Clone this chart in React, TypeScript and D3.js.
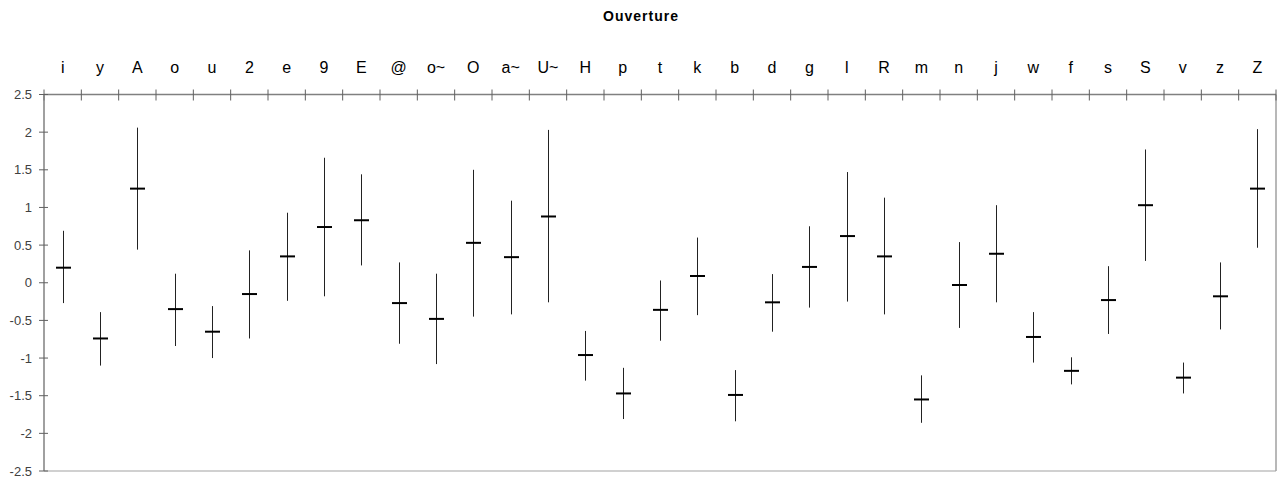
import React from "react";
import * as d3 from "d3";

const categories = ["i","y","A","o","u","2","e","9","E","@","o~","O","a~","U~","H","p","t","k","b","d","g","l","R","m","n","j","w","f","s","S","v","z","Z"];
const means = [0.20,-0.74,1.25,-0.35,-0.65,-0.15,0.35,0.74,0.83,-0.27,-0.48,0.53,0.34,0.88,-0.96,-1.47,-0.36,0.09,-1.49,-0.26,0.21,0.62,0.35,-1.55,-0.03,0.385,-0.72,-1.17,-0.23,1.03,-1.26,-0.18,1.25];
const highs = [0.69,-0.39,2.06,0.12,-0.31,0.43,0.93,1.66,1.44,0.27,0.12,1.50,1.09,2.03,-0.64,-1.13,0.03,0.60,-1.16,0.115,0.75,1.47,1.13,-1.23,0.54,1.03,-0.39,-0.99,0.22,1.77,-1.06,0.27,2.04];
const lows = [-0.27,-1.10,0.44,-0.84,-1.00,-0.74,-0.24,-0.18,0.23,-0.81,-1.08,-0.45,-0.42,-0.26,-1.30,-1.81,-0.77,-0.43,-1.84,-0.65,-0.33,-0.25,-0.42,-1.86,-0.60,-0.26,-1.06,-1.35,-0.68,0.29,-1.47,-0.62,0.465];
const yTicks = [2.5,2,1.5,1,0.5,0,-0.5,-1,-1.5,-2,-2.5];
const title = "Ouverture";

const W = 1277, H = 481;
const left = 44, right = 1276, top = 94.5, bottom = 471;

export default function App() {
  const x = d3.scaleBand<string>().domain(categories).range([left, right]).padding(0);
  const y = d3.scaleLinear().domain([-2.5, 2.5]).range([bottom, top]);
  const font = "Arial, 'Liberation Sans', sans-serif";
  const bw = x.bandwidth();
  const tickXs = categories.map((c) => x(c)!).concat([right]);
  return (
    <svg width={W} height={H} style={{ position: "absolute", left: 0, top: 0, background: "#fff" }}>
      <text x={641} y={21} textAnchor="middle" fontFamily={font} fontWeight="bold" fontSize={14} letterSpacing={1}>{title}</text>
      {/* frame */}
      <line x1={left} x2={right} y1={bottom} y2={bottom} stroke="#c0c0c0" strokeWidth={1.5} />
      <line x1={right} x2={right} y1={top} y2={bottom} stroke="#a0a0a0" strokeWidth={1.5} />
      {/* top axis */}
      <line x1={left} x2={right} y1={top} y2={top} stroke="#808080" strokeWidth={1.5} />
      {tickXs.map((tx, i) => (
        <line key={"xt" + i} x1={tx} x2={tx} y1={top - 5} y2={top + 6} stroke="#606060" strokeWidth={1} />
      ))}
      {categories.map((c) => (
        <text key={"xl" + c} x={x(c)! + bw / 2} y={73} textAnchor="middle" fontFamily={font} fontSize={16}>{c}</text>
      ))}
      {/* left axis */}
      <line x1={left} x2={left} y1={top} y2={bottom} stroke="#808080" strokeWidth={1.5} />
      {yTicks.map((t) => (
        <g key={"yt" + t}>
          <line x1={left - 5} x2={left + 4} y1={y(t)} y2={y(t)} stroke="#606060" strokeWidth={1} />
          <text x={32} y={y(t)} dy="0.35em" textAnchor="end" fontFamily={font} fontSize={13} fill="#404040">{t}</text>
        </g>
      ))}
      {/* marks */}
      {categories.map((c, i) => {
        const cx = Math.round(x(c)! + bw / 2) + 0.5;
        return (
          <g key={"m" + c}>
            <line x1={cx} x2={cx} y1={y(highs[i])} y2={y(lows[i])} stroke="#222" strokeWidth={1} />
            <line x1={cx - 7.5} x2={cx + 7.5} y1={y(means[i])} y2={y(means[i])} stroke="#000" strokeWidth={2} />
          </g>
        );
      })}
    </svg>
  );
}
